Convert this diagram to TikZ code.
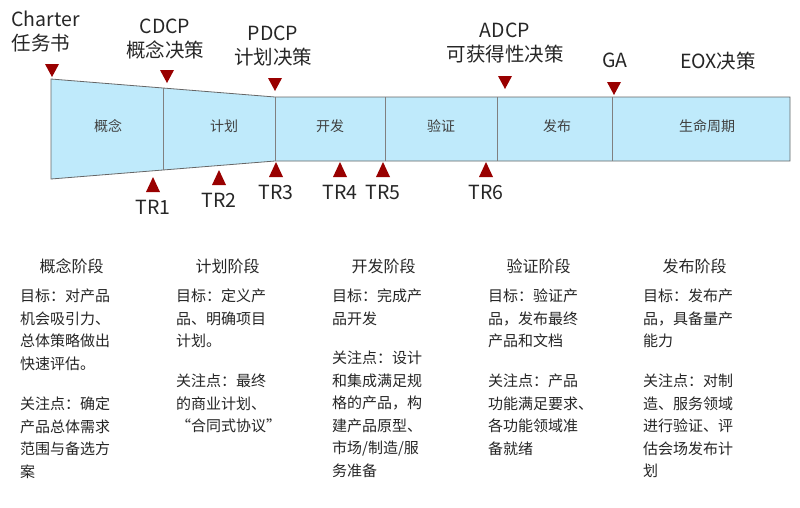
\documentclass[tikz,border=0pt]{standalone}
\usepackage{fontspec}
\setmainfont{Noto Sans CJK SC}
\begin{document}
\begin{tikzpicture}[x=1pt,y=-1pt,
 tri/.style={fill=red!60!black,draw=none},
 lab/.style={font=\fontsize{19.5}{24}\selectfont,align=center,text=black!85},
 ph/.style={font=\fontsize{14}{16}\selectfont,text=black!75},
 hd/.style={font=\fontsize{16}{18}\selectfont,anchor=west,text=black!85},
 body/.style={font=\fontsize{15}{22.5}\selectfont,anchor=north west,align=left,text=black!85,inner sep=0pt}]
\useasboundingbox (0,0) rectangle (800,507);
\fill[white] (0,0) rectangle (800,507);
\path[fill=cyan!25!white,draw=black!60,line width=0.8pt] (51,79) -- (275,97) -- (790,97) -- (790,161) -- (275,161) -- (51,179) -- cycle;
\foreach \x/\a/\b in {163/88/170,275/97/161,385/97/161,497/97/161,612/97/161}
  \draw[black!50,line width=0.7pt] (\x,\a) -- (\x,\b);
\node[ph] (p1) at (108,126) {概念};
\node[ph] (p2) at (224,126) {计划};
\node[ph] (p3) at (330,126) {开发};
\node[ph] (p4) at (441,126) {验证};
\node[ph] (p5) at (557,126) {发布};
\node[ph] (p6) at (707,126) {生命周期};
% top triangles
\foreach \x/\y in {52/64,167/70,275/78,505/76,614/82}
  \fill[tri] (\x-7,\y) -- (\x+7,\y) -- (\x,\y+13) -- cycle;
\node[lab,align=left,anchor=west] (c1) at (8,32) {Charter\\任务书};
\node[lab] (c2) at (165,39) {CDCP\\概念决策};
\node[lab] (c3) at (273,46) {PDCP\\计划决策};
\node[lab] (c4) at (505,43) {ADCP\\可获得性决策};
\node[lab] (c5) at (615,60) {GA};
\node[lab] (c6) at (718,61) {EOX决策};
% bottom triangles
\foreach \x/\y/\t in {153/192/TR1,219/185/TR2,276/177/TR3,340/177/TR4,383/177/TR5,486/177/TR6}{
  \fill[tri] (\x-7,\y) -- (\x+7,\y) -- (\x,\y-15) -- cycle;
  \node[lab] (\t) at (\x,\y+15) {\t};}
% columns
\node[hd] (h1) at (36,266) {概念阶段};
\node[hd] (h2) at (192,266) {计划阶段};
\node[hd] (h3) at (348,266) {开发阶段};
\node[hd] (h4) at (503,266) {验证阶段};
\node[hd] (h5) at (659,266) {发布阶段};
\node[body] (b1) at (20,289) {目标：对产品\\机会吸引力、\\总体策略做出\\快速评估。};
\node[body] (b1b) at (20,397) {关注点：确定\\产品总体需求\\范围与备选方\\案};
\node[body] (b2) at (176,289) {目标：定义产\\品、明确项目\\计划。};
\node[body] (b2b) at (176,374) {关注点：最终\\的商业计划、\\“合同式协议”};
\node[body] (b3) at (332,289) {目标：完成产\\品开发};
\node[body] (b3b) at (332,351) {关注点：设计\\和集成满足规\\格的产品，构\\建产品原型、\\市场/制造/服\\务准备};
\node[body] (b4) at (488,289) {目标：验证产\\品，发布最终\\产品和文档};
\node[body] (b4b) at (488,374) {关注点：产品\\功能满足要求、\\各功能领域准\\备就绪};
\node[body] (b5) at (643,289) {目标：发布产\\品，具备量产\\能力};
\node[body] (b5b) at (643,374) {关注点：对制\\造、服务领域\\进行验证、评\\估会场发布计\\划};
\end{tikzpicture}
\end{document}
